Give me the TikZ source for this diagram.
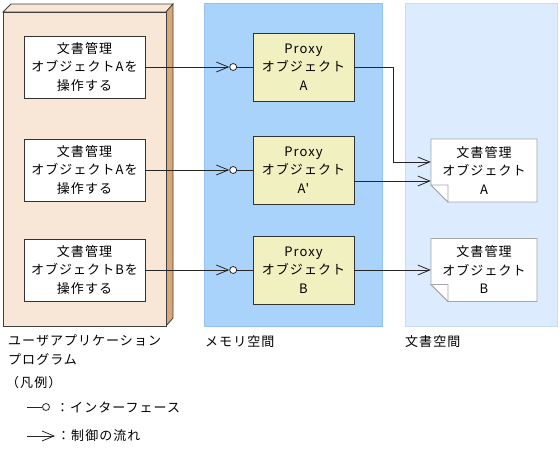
\documentclass[tikz,border=0pt]{standalone}
\usepackage{fontspec}
\setmainfont[LetterSpace=8]{Noto Sans CJK JP}
\usetikzlibrary{calc}
\usetikzlibrary{positioning}
\usetikzlibrary{arrows.meta}

\definecolor{appfill}{HTML}{F8E6D6}
\definecolor{appside}{HTML}{D8A878}
\definecolor{memfill}{HTML}{AAD3FC}
\definecolor{memline}{HTML}{92C2F2}
\definecolor{docfill}{HTML}{DCEBFD}
\definecolor{docline}{HTML}{C8DDF5}
\definecolor{proxyfill}{HTML}{F0F0C0}

\begin{document}
\begin{tikzpicture}[x=1pt,y=-1pt,>={Straight Barb[length=12pt,width=10pt]},
  font=\fontsize{13}{18.5}\selectfont,
  conn/.style={draw=black!85,line width=0.8pt},
  appbox/.style={draw=black!80,fill=white,line width=0.8pt,minimum width=121pt,minimum height=62pt,align=center,inner sep=0pt},
  proxybox/.style={draw=black!80,fill=proxyfill,line width=0.8pt,minimum width=101pt,minimum height=68pt,align=center,inner sep=0pt},
  docbox/.style={minimum width=106pt,minimum height=63pt,align=center,inner sep=0pt},
  iface/.style={circle,draw=black!85,fill=white,line width=0.8pt,minimum size=7pt,inner sep=0pt},
  caption/.style={anchor=west,align=left,inner sep=0pt}]

\useasboundingbox (0,0) rectangle (560,455);

\filldraw [fill=appfill,draw=black!75,line width=0.8pt] (3,12) -- (11,4) -- (173,4) -- (166,12) -- cycle;
\filldraw [fill=appside,draw=black!75,line width=0.8pt] (166,12) -- (173,4) -- (173,318) -- (166,326) -- cycle;
\filldraw [fill=appfill,draw=black!75,line width=0.8pt] (3,12) rectangle (166,326);
\filldraw [fill=memfill,draw=memline,line width=0.8pt] (204,3) rectangle (382,326);
\filldraw [fill=docfill,draw=docline,line width=0.8pt] (405,3) rectangle (557,326);

\node [appbox] (app1) at (84.5,67) {文書管理\\オブジェクトAを\\操作する};
\node [appbox] (app2) at (84.5,170) {文書管理\\オブジェクトAを\\操作する};
\node [appbox] (app3) at (84.5,270) {文書管理\\オブジェクトBを\\操作する};

\node [proxybox] (pxA) at (303.5,67) {Proxy\\オブジェクト\\A};
\node [proxybox] (pxA2) at (303.5,170) {Proxy\\オブジェクト\\A\textquotesingle};
\node [proxybox] (pxB) at (303.5,270) {Proxy\\オブジェクト\\B};

\foreach \n/\y in {docA/170.5,docB/270} {
  \filldraw [fill=white,draw=black!35,line width=0.8pt]
    (431,\y-31.5) -- (537,\y-31.5) -- (537,\y+31.5) -- (448,\y+31.5) -- (431,\y+14.5) -- cycle;
  \filldraw [fill=white,draw=black!35,line width=0.8pt]
    (431,\y+14.5) -- (448,\y+14.5) -- (448,\y+31.5) -- cycle;
}
\node [docbox] (docA) at (484,170.5) {文書管理\\オブジェクト\\A};
\node [docbox] (docB) at (484,270) {文書管理\\オブジェクト\\B};

\foreach \p/\a/\i in {pxA/app1/i1,pxA2/app2/i2,pxB/app3/i3} {
  \node [iface,left=15.5pt of \p] (\i) {};
  \draw [conn,->] (\a) -- (\i);
  \draw [conn] (\i) -- (\p);
}

\coordinate (inA1) at ($(docA.west)+(0,-8.5)$);
\coordinate (inA2) at ($(docA.west)+(0,10.5)$);
\coordinate (bend) at (393,0);
\draw [conn,->] (pxA.east) -| (bend |- inA1) -- (inA1);
\draw [conn,->] (pxA2.east |- inA2) -- (inA2);
\draw [conn,->] (pxB) -- (docB);

\node [caption] (capApp) at (8,350) {ユーザアプリケーション\\プログラム};
\node [caption] (capMem) at (205,342) {メモリ空間};
\node [caption] (capDoc) at (405,342) {文書空間};

\node [caption] (legend) at (6,383) {（凡例）};
\node [iface] (li) at (46,407) {};
\coordinate (l1) at (27,407);
\draw [conn] (l1) -- (li);
\node [caption] (lt1) at (56,407) {：インターフェース};
\coordinate (l2a) at (27,436);
\coordinate (l2b) at (55,436);
\draw [conn,->] (l2a) -- (l2b);
\node [caption] (lt2) at (57,436) {：制御の流れ};

\end{tikzpicture}
\end{document}
